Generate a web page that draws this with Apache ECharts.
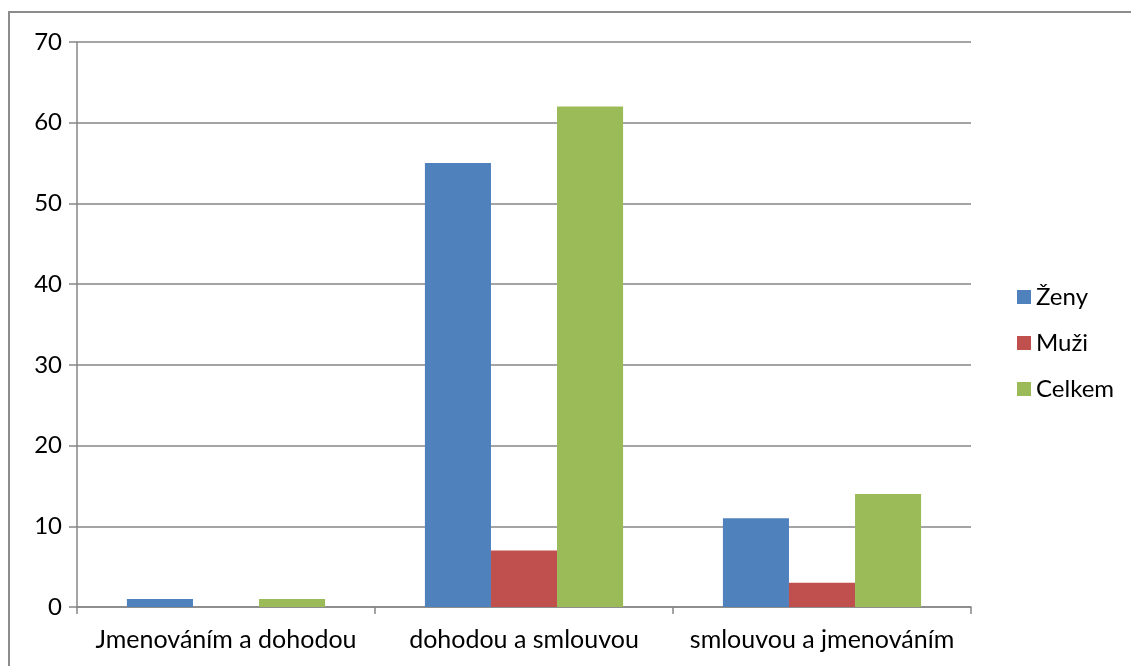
<!DOCTYPE html>
<html>
<head>
<meta charset="utf-8">
<script src="https://cdn.jsdelivr.net/npm/echarts@6/dist/echarts.min.js"></script>
<style>
  html, body { margin: 0; padding: 0; background: #fff; }
  #frame { position: absolute; left: 8px; top: 11px; width: 1140px; height: 700px;
           border: 2px solid #8c8c8c; box-sizing: border-box; }
  #chart { position: absolute; left: 0; top: 0; width: 1131px; height: 666px; }
</style>
</head>
<body>
<div id="frame"></div>
<div id="chart"></div>
<script>
const categories = ['Jmenováním a dohodou', 'dohodou a smlouvou', 'smlouvou a jmenováním'];
const zeny = [1, 55, 11];
const muzi = [0, 7, 3];
const celkem = [1, 62, 14];
const seriesNames = ['Ženy', 'Muži', 'Celkem'];
const colors = ['#4F81BD', '#C0504D', '#9BBB59'];

const font = 'Lato, "Open Sans", sans-serif';
const chart = echarts.init(document.getElementById('chart'), null, { renderer: 'canvas' });
const gridColor = '#868686';

chart.setOption({
  animation: false,
  color: colors,
  grid: { left: 77, right: 160, top: 42, bottom: 59, containLabel: false },
  legend: {
    orient: 'vertical',
    left: 1012,
    top: 280,
    itemWidth: 14,
    itemHeight: 14,
    itemGap: 22,
    icon: 'rect',
    textStyle: { fontFamily: font, fontSize: 24, color: '#000', padding: [0, 0, 0, 0] },
    data: seriesNames
  },
  xAxis: {
    type: 'category',
    data: categories,
    axisLine: { lineStyle: { color: gridColor, width: 1.5 } },
    axisTick: { show: true, length: 7, lineStyle: { color: gridColor, width: 1.5 } },
    axisLabel: { fontFamily: font, fontSize: 25, color: '#000', margin: 20, interval: 0 }
  },
  yAxis: {
    type: 'value',
    min: 0,
    max: 70,
    interval: 10,
    axisLine: { show: true, lineStyle: { color: gridColor, width: 1.5 } },
    axisTick: { show: true, length: 8, lineStyle: { color: gridColor, width: 1.5 } },
    splitLine: { lineStyle: { color: gridColor, width: 1.5 } },
    axisLabel: { fontFamily: font, fontSize: 24, color: '#000', margin: 15 }
  },
  series: [
    { name: seriesNames[0], type: 'bar', data: zeny, barGap: '0%', barCategoryGap: '33.5%' },
    { name: seriesNames[1], type: 'bar', data: muzi, barGap: '0%', barCategoryGap: '33.5%' },
    { name: seriesNames[2], type: 'bar', data: celkem, barGap: '0%', barCategoryGap: '33.5%' }
  ]
});
</script>
</body>
</html>
